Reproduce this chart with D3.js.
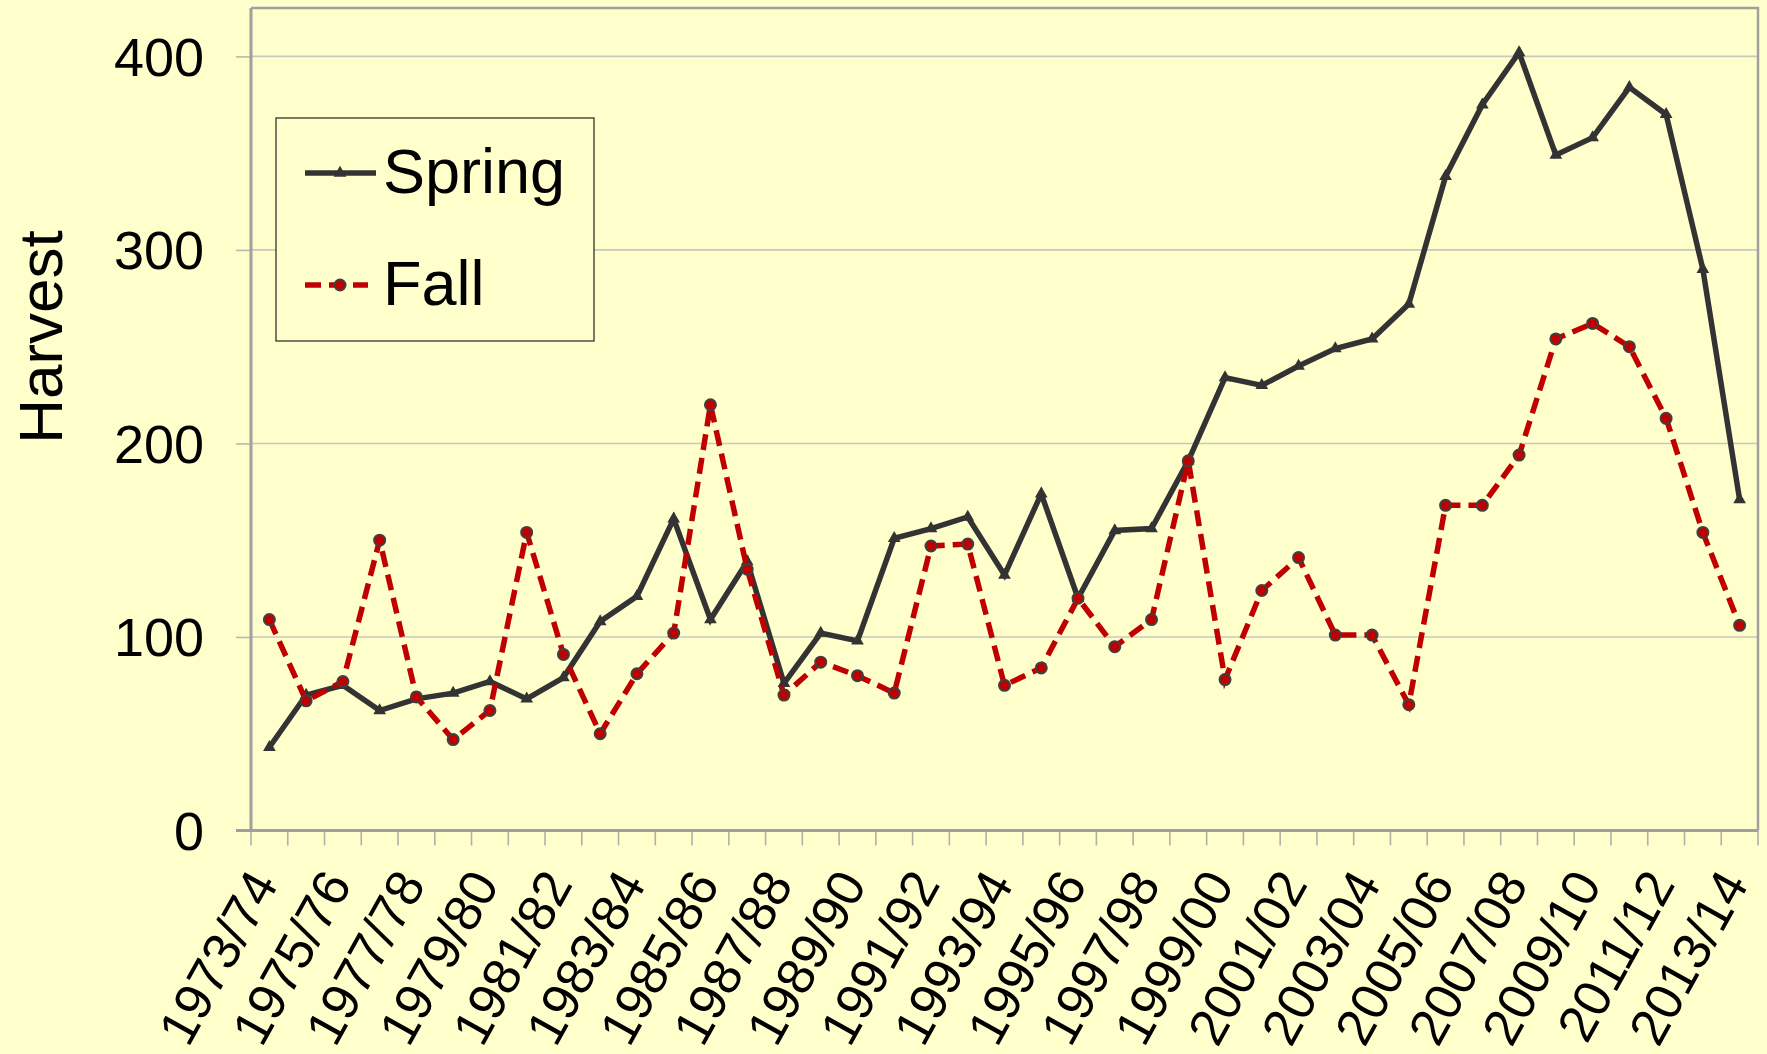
<!DOCTYPE html>
<html>
<head>
<meta charset="utf-8">
<script src="https://cdn.jsdelivr.net/npm/d3@7"></script>
<style>
  html, body { margin: 0; padding: 0; background: #FFFFCC; }
  svg { display: block; font-family: "Liberation Sans", Arial, sans-serif; }
</style>
</head>
<body>
<svg id="chart" width="1767" height="1054"></svg>
<script>
const seasons = ["1973/74","1974/75","1975/76","1976/77","1977/78","1978/79","1979/80","1980/81","1981/82","1982/83",
  "1983/84","1984/85","1985/86","1986/87","1987/88","1988/89","1989/90","1990/91","1991/92","1992/93",
  "1993/94","1994/95","1995/96","1996/97","1997/98","1998/99","1999/00","2000/01","2001/02","2002/03",
  "2003/04","2004/05","2005/06","2006/07","2007/08","2008/09","2009/10","2010/11","2011/12","2012/13","2013/14"];
const springValues = [43,70,75,62,68,71,77,68,79,108,121,161,109,139,76,102,98,151,156,162,132,174,120,155,156,191,
  234,230,240,249,254,272,338,375,402,349,358,384,370,290,171];
const fallValues = [109,67,77,150,69,47,62,154,91,50,81,102,220,135,70,87,80,71,147,148,75,84,120,95,109,191,
  78,124,141,101,101,65,168,168,194,254,262,250,213,154,106];
const yTicks = [0,100,200,300,400];
const tickLabels = seasons.filter((d, i) => i % 2 === 0);
const seriesNames = ["Spring", "Fall"];
const yTitle = "Harvest";

const svg = d3.select("#chart");
const pLeft = 251, pRight = 1758, pTop = 8, pBottom = 830.5;

const x = d3.scaleBand().domain(seasons).range([pLeft, pRight]).padding(0);
const y = d3.scaleLinear().domain([0, 425]).range([pBottom, pTop]);
const bw = x.bandwidth();
const cx = d => x(d) + bw / 2;

// gridlines
svg.append("g").selectAll("line").data(yTicks.filter(v => v > 0)).join("line")
  .attr("x1", pLeft).attr("x2", pRight)
  .attr("y1", d => y(d)).attr("y2", d => y(d))
  .attr("stroke", "#c8c8c0").attr("stroke-width", 1.6);

// plot border (top & right)
svg.append("path")
  .attr("d", `M${pLeft},${pTop}H${pRight}V${pBottom}`)
  .attr("fill", "none").attr("stroke", "#a0a0a0").attr("stroke-width", 2.5);

// y axis
const yAxis = svg.append("g").attr("transform", `translate(${pLeft},0)`)
  .call(d3.axisLeft(y).tickValues(yTicks).tickSize(15).tickPadding(32).tickFormat(d3.format("d")));
yAxis.select(".domain").remove();
yAxis.selectAll(".tick line").attr("stroke", "#b8b8b0").attr("stroke-width", 1.6);
yAxis.selectAll(".tick text").attr("font-size", 54).attr("fill", "#000")
  .attr("font-family", "Liberation Sans, Arial, sans-serif").attr("dy", "0.35em");
svg.append("line").attr("x1", pLeft).attr("x2", pLeft).attr("y1", pTop).attr("y2", pBottom + 1)
  .attr("stroke", "#a0a0a0").attr("stroke-width", 3);

// x axis ticks at band boundaries
const bounds = seasons.map(d => x(d)).concat([pRight]);
svg.append("g").selectAll("line").data(bounds).join("line")
  .attr("x1", d => d).attr("x2", d => d).attr("y1", pBottom).attr("y2", pBottom + 15)
  .attr("stroke", "#b0b0a8").attr("stroke-width", 1.6);
svg.append("line").attr("x1", pLeft - 15).attr("x2", pRight).attr("y1", pBottom).attr("y2", pBottom)
  .attr("stroke", "#a0a0a0").attr("stroke-width", 3);

// x labels
svg.append("g").selectAll("text").data(tickLabels).join("text")
  .attr("transform", d => `translate(${cx(d) + 10},884) rotate(-61)`)
  .attr("text-anchor", "end").attr("font-size", 52).attr("fill", "#000")
  .text(d => d);

// y title
svg.append("text").attr("transform", "translate(61.5,337) rotate(-90)")
  .attr("text-anchor", "middle").attr("font-size", 62).attr("fill", "#000").text(yTitle);

// lines
const line = d3.line().x((d, i) => cx(seasons[i])).y(d => y(d));
const triangle = d3.symbol().type(d3.symbolTriangle).size(70);

svg.append("path").datum(springValues).attr("d", line)
  .attr("fill", "none").attr("stroke", "#333333").attr("stroke-width", 5.5).attr("stroke-linejoin", "miter");
svg.append("g").selectAll("path").data(springValues).join("path")
  .attr("d", triangle).attr("transform", (d, i) => `translate(${cx(seasons[i])},${y(d)})`)
  .attr("fill", "#333333");

svg.append("path").datum(fallValues).attr("d", line)
  .attr("fill", "none").attr("stroke", "#c00000").attr("stroke-width", 5.5)
  .attr("stroke-dasharray", "16,8");
svg.append("g").selectAll("circle").data(fallValues).join("circle")
  .attr("cx", (d, i) => cx(seasons[i])).attr("cy", d => y(d)).attr("r", 5.5)
  .attr("fill", "#c00000").attr("stroke", "#404040").attr("stroke-width", 2);

// legend
const lg = svg.append("g");
lg.append("rect").attr("x", 276).attr("y", 118).attr("width", 318).attr("height", 223)
  .attr("fill", "#FFFFCC").attr("stroke", "#222").attr("stroke-width", 1.2);
lg.append("line").attr("x1", 305).attr("x2", 376).attr("y1", 173).attr("y2", 173)
  .attr("stroke", "#333333").attr("stroke-width", 5.5);
lg.append("path").attr("d", triangle).attr("transform", "translate(340,173)").attr("fill", "#333333");
lg.append("text").attr("x", 383).attr("y", 193).attr("font-size", 63).attr("fill", "#000").text(seriesNames[0]);
lg.append("line").attr("x1", 305).attr("x2", 368).attr("y1", 285).attr("y2", 285)
  .attr("stroke", "#c00000").attr("stroke-width", 5.5).attr("stroke-dasharray", "16,8");
lg.append("circle").attr("cx", 340).attr("cy", 285).attr("r", 5.5)
  .attr("fill", "#c00000").attr("stroke", "#404040").attr("stroke-width", 2);
lg.append("text").attr("x", 383).attr("y", 305).attr("font-size", 63).attr("fill", "#000").text(seriesNames[1]);
</script>
</body>
</html>
